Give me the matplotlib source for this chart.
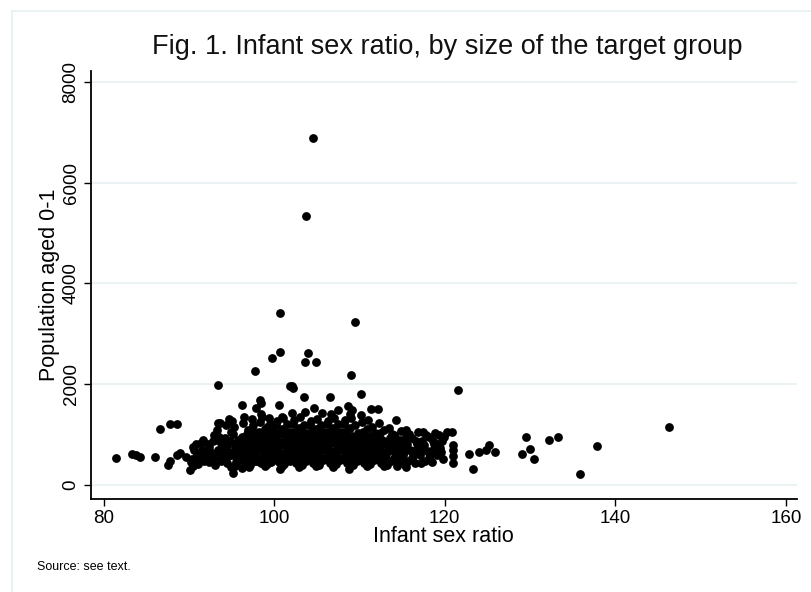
import matplotlib.pyplot as plt
from matplotlib.lines import Line2D

plt.rcParams['font.family'] = ['Liberation Sans', 'DejaVu Sans']

# isolated points
ratio_out = [81.4, 83.3, 83.8, 84.3, 86.0, 86.6, 87.8, 88.6, 87.5, 87.8,
             88.6, 88.9, 90.1, 89.7, 90.5, 93.4, 96.2, 97.9, 98.5, 100.5,
             102.1, 96.4, 98.6, 100.9, 102.1, 93.4, 94.7, 93.1, 93.1, 95.2,
             97.0, 100.7, 99.9, 108.8, 115.5, 104.5, 103.7, 100.7, 109.5, 100.7,
             99.7, 103.9, 103.6, 104.9, 97.7, 109.0, 101.9, 102.2, 110.2, 103.5,
             106.5, 98.3, 121.5, 111.4, 112.2, 114.3, 120.2, 120.9, 121.0, 121.0,
             121.0, 121.0, 122.8, 123.3, 124.0, 125.2, 125.9, 124.8, 129.5, 130.0,
             129.0, 130.5, 132.2, 133.3, 135.8, 137.8, 146.3]
pop_out = [529, 615, 595, 562, 562, 1105, 1210, 1210, 397, 482,
           595, 641, 298, 549, 760, 1984, 1587, 1521, 1633, 1587,
           1964, 1356, 1343, 1343, 1422, 1224, 1303, 992, 893, 232,
           351, 311, 549, 317, 351, 6880, 5340, 3405, 3233, 2645,
           2513, 2612, 2434, 2434, 2268, 2176, 1964, 1918, 1799, 1740,
           1740, 1686, 1885, 1508, 1508, 1290, 1045, 1045, 793, 694,
           575, 430, 615, 317, 661, 793, 661, 694, 946, 714,
           615, 516, 893, 946, 218, 774, 1157]

# dense cloud, one line per unit of sex ratio
ratio_core = [
    90.3, 90.6, 90.9, 90.2, 90.8, 90.5,
    91.2, 91.5, 91.8, 91.4, 91.9, 91.1, 91.7,
    92.1, 92.4, 92.7, 92.3, 92.8, 92.5, 92.9, 92.2,
    93.1, 93.4, 93.7, 93.3, 93.8, 93.5, 93.2, 93.9, 93.6, 93.0,
    94.1, 94.4, 94.7, 94.2, 94.9, 94.5, 94.3, 94.8, 94.6, 94.0, 94.9,
    95.1, 95.4, 95.7, 95.2, 95.9, 95.5, 95.3, 95.8, 95.6, 95.0, 95.4,
    96.1, 96.4, 96.7, 96.2, 96.9, 96.5, 96.3, 96.8, 96.6, 96.0, 96.8, 96.2,
    97.1, 97.4, 97.7, 97.3, 97.8, 97.5, 97.2, 97.9, 97.6, 97.0, 97.4, 97.8,
    98.1, 98.4, 98.7, 98.2, 98.9, 98.5, 98.3, 98.8, 98.6, 98.0, 98.4, 98.9, 98.2,
    99.1, 99.4, 99.7, 99.3, 99.8, 99.5, 99.2, 99.9, 99.6, 99.0, 99.4, 99.8, 99.1,
    100.1, 100.4, 100.8, 100.2, 100.9, 100.5, 100.3, 100.7, 100.6, 100.0, 100.4, 100.9, 100.2,
    101.1, 101.4, 101.7, 101.3, 101.8, 101.5, 101.2, 101.9, 101.6, 101.0, 101.4, 101.8, 101.1,
    102.1, 102.4, 102.7, 102.2, 102.9, 102.5, 102.3, 102.8, 102.6, 102.0, 102.4, 102.9, 102.2,
    103.1, 103.4, 103.7, 103.3, 103.8, 103.5, 103.2, 103.9, 103.6, 103.0, 103.4, 103.8, 103.1, 103.6,
    104.1, 104.4, 104.7, 104.2, 104.9, 104.5, 104.3, 104.8, 104.6, 104.0, 104.4, 104.9, 104.2, 104.7,
    105.1, 105.4, 105.7, 105.3, 105.8, 105.5, 105.2, 105.9, 105.6, 105.0, 105.4, 105.8, 105.1, 105.6,
    106.1, 106.4, 106.7, 106.2, 106.9, 106.5, 106.3, 106.8, 106.6, 106.0, 106.4, 106.9, 106.2, 106.7,
    107.1, 107.4, 107.7, 107.3, 107.8, 107.5, 107.2, 107.9, 107.6, 107.0, 107.4, 107.8, 107.1, 107.5,
    108.1, 108.4, 108.7, 108.2, 108.9, 108.5, 108.3, 108.8, 108.6, 108.0, 108.4, 108.9, 108.2, 108.7,
    109.1, 109.4, 109.7, 109.3, 109.8, 109.5, 109.2, 109.9, 109.6, 109.0, 109.4, 109.8, 109.1,
    110.1, 110.4, 110.7, 110.2, 110.9, 110.5, 110.3, 110.8, 110.6, 110.0, 110.4, 110.9, 110.2,
    111.1, 111.4, 111.7, 111.3, 111.8, 111.5, 111.2, 111.9, 111.6, 111.0, 111.4, 111.8,
    112.1, 112.4, 112.7, 112.2, 112.9, 112.5, 112.3, 112.8, 112.6, 112.0, 112.4, 112.9,
    113.1, 113.4, 113.7, 113.3, 113.8, 113.5, 113.2, 113.9, 113.6, 113.0, 113.4,
    114.1, 114.4, 114.7, 114.2, 114.9, 114.5, 114.3, 114.8, 114.6, 114.0, 114.4,
    115.1, 115.4, 115.7, 115.3, 115.8, 115.5, 115.2, 115.9, 115.6, 115.0, 115.4,
    116.1, 116.4, 116.7, 116.2, 116.9, 116.5, 116.3, 116.8, 116.6,
    117.1, 117.4, 117.7, 117.3, 117.8, 117.5, 117.2, 117.9, 117.6,
    118.1, 118.4, 118.7, 118.2, 118.9, 118.5, 118.3, 118.8, 118.6,
    119.1, 119.4, 119.7, 119.3, 119.8, 119.5, 119.2, 119.9,
]
pop_core = [
    520, 690, 600, 450, 810, 380,
    560, 700, 480, 830, 640, 410, 900,
    600, 750, 520, 450, 880, 660, 1000, 820,
    560, 700, 830, 1100, 480, 960, 640, 610, 1220, 400,
    520, 790, 650, 930, 1050, 440, 1180, 870, 580, 720, 360,
    600, 760, 900, 1020, 540, 450, 1160, 680, 830, 1260, 380,
    520, 650, 790, 950, 1100, 430, 1230, 580, 870, 720, 1010, 330,
    620, 760, 480, 900, 1050, 1180, 400, 700, 840, 560, 1300, 980,
    540, 690, 830, 970, 1120, 440, 1250, 600, 760, 900, 1400, 380, 1060,
    610, 780, 500, 930, 1070, 1200, 420, 870, 680, 1010, 1330, 560, 1150,
    540, 690, 820, 960, 1120, 450, 1260, 600, 1040, 760, 880, 380, 1180,
    620, 770, 500, 900, 1050, 1200, 420, 700, 960, 1330, 560, 840, 1100,
    540, 680, 820, 990, 1130, 430, 1280, 600, 920, 760, 1060, 360, 1200,
    610, 760, 480, 880, 1040, 1180, 400, 700, 950, 1340, 560, 830, 1100, 1450,
    530, 690, 830, 980, 1120, 440, 1260, 620, 900, 760, 1060, 370, 1180, 1520,
    610, 770, 490, 900, 1050, 1190, 400, 700, 960, 1300, 560, 850, 1120, 1420,
    540, 690, 830, 980, 1130, 430, 1270, 610, 920, 760, 1060, 360, 1200, 1400,
    620, 770, 500, 900, 1060, 1200, 410, 700, 960, 1330, 560, 840, 1100, 1480,
    540, 690, 830, 980, 1130, 440, 1280, 620, 910, 760, 1060, 1400, 1200, 1560,
    610, 760, 480, 890, 1040, 1180, 400, 700, 950, 1320, 560, 830, 1480,
    540, 690, 830, 980, 1120, 440, 1250, 610, 900, 760, 1060, 370, 1380,
    610, 760, 490, 880, 1030, 1160, 410, 700, 940, 1280, 560, 830,
    540, 680, 820, 960, 1100, 440, 1220, 600, 900, 750, 1040, 380,
    610, 750, 480, 880, 1020, 1140, 400, 690, 940, 560, 820,
    540, 680, 820, 950, 1080, 440, 600, 890, 760, 1000, 380,
    600, 740, 480, 880, 1010, 1100, 410, 690, 820, 540, 960,
    540, 680, 810, 940, 1050, 440, 600, 740, 880,
    600, 740, 480, 870, 1000, 1060, 430, 680, 800,
    540, 680, 820, 950, 1040, 460, 600, 740, 880,
    600, 740, 880, 1000, 520, 660, 820, 960,
]

# extra points filling the darkest part of the cloud
ratio_fill = [
    95.6, 96.5, 97.3, 98.0, 98.8, 99.6, 100.3, 101.0, 101.8, 102.6, 103.3, 104.1, 104.9,
    105.6, 106.4, 107.2, 107.9, 108.7, 109.4, 110.2, 111.0, 111.7, 112.5, 113.2, 114.0, 114.8,
    95.9, 96.8, 97.6, 98.4, 99.2, 100.0, 100.7, 101.5, 102.3, 103.0, 103.8, 104.6, 105.3,
    106.1, 106.9, 107.6, 108.4, 109.2, 109.9, 110.7, 111.5, 112.2, 113.0, 113.7, 114.5, 115.3,
    96.2, 97.0, 97.9, 98.6, 99.5, 100.2, 101.1, 101.9, 102.7, 103.5, 104.3, 105.0, 105.8,
    106.6, 107.3, 108.1, 108.9, 109.7, 110.4, 111.2, 112.0, 112.8, 113.5, 114.3,
    97.5, 98.3, 99.1, 99.9, 100.6, 101.4, 102.2, 103.0, 103.7, 104.5, 105.2, 106.0,
    106.8, 107.6, 108.3, 109.1, 109.9, 110.6, 111.4, 112.2,
]
pop_fill = [
    500, 470, 520, 480, 510, 460, 500, 530, 470, 510, 490, 520, 470,
    500, 530, 480, 510, 470, 500, 520, 480, 510, 470, 500, 490, 520,
    650, 700, 640, 690, 660, 710, 640, 680, 650, 700, 660, 690, 640,
    700, 650, 690, 660, 710, 640, 680, 650, 700, 660, 690, 640, 670,
    800, 850, 790, 840, 810, 860, 790, 830, 800, 850, 810, 840, 790,
    850, 800, 840, 810, 860, 790, 830, 800, 850, 810, 840,
    1000, 960, 1010, 970, 1020, 980, 1000, 960, 1010, 970, 1020, 980,
    1000, 960, 1010, 970, 1000, 960, 980, 950,
]

xticks = [80, 100, 120, 140, 160]
yticks = [0, 2000, 4000, 6000, 8000]

fig = plt.figure(figsize=(8.11, 5.92), dpi=100)
ax = fig.add_axes([0.1118, 0.1571, 0.8709, 0.7235])

ax.scatter(ratio_core + ratio_fill + ratio_out, pop_core + pop_fill + pop_out,
           s=40, c='black', linewidths=0, zorder=3)

ax.set_xlim(78.47, 161.3)
ax.set_ylim(-278, 8218)
ax.set_xticks(xticks)
ax.set_yticks(yticks)
ax.set_yticklabels([str(v) for v in yticks], rotation=90, va='center')
ax.tick_params(labelsize=13.5, length=5, width=1, colors='black', pad=3)
ax.yaxis.grid(True, color='#eaf2f3', linewidth=1.5, zorder=0)
ax.set_axisbelow(True)
for side in ['top', 'right']:
    ax.spines[side].set_visible(False)
for side in ['left', 'bottom']:
    ax.spines[side].set_linewidth(1.3)

ax.set_xlabel('Infant sex ratio', fontsize=15.5, labelpad=-1)
ax.set_ylabel('Population aged 0-1', fontsize=15.5, labelpad=2)

fig.text(0.551, 0.921, 'Fig. 1. Infant sex ratio, by size of the target group',
         ha='center', va='center', fontsize=19.5, color='#111111')
fig.text(0.046, 0.042, 'Source: see text.', ha='left', va='center', fontsize=9)

# light outer border of the graph region
fig.add_artist(Line2D([12 / 811, 12 / 811], [0, 1 - 11 / 592],
                      transform=fig.transFigure, color='#eaf2f3', lw=1.5))
fig.add_artist(Line2D([12 / 811, 1], [1 - 11 / 592, 1 - 11 / 592],
                      transform=fig.transFigure, color='#eaf2f3', lw=1.5))

fig.savefig('out.png', dpi=100)
